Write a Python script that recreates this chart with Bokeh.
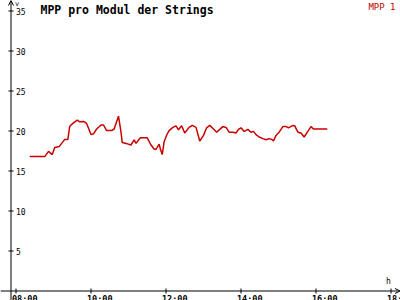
import math
from bokeh.plotting import figure
from bokeh.models import Range1d, Arrow, OpenHead, ColumnDataSource
from bokeh.core.properties import value
from bokeh.embed import file_html
from bokeh.resources import INLINE

# ---- data ----
times = ["08:22", "08:46", "08:52", "08:58", "09:02", "09:09", "09:14", "09:18", "09:23", "09:26",
         "09:31", "09:38", "09:42", "09:48", "09:53", "10:00", "10:04", "10:09", "10:16", "10:20",
         "10:25", "10:33", "10:37", "10:40", "10:44", "10:48", "10:50", "10:56", "11:04", "11:09",
         "11:12", "11:19", "11:30", "11:36", "11:41", "11:44", "11:49", "11:51", "11:54", "11:57",
         "12:02", "12:05", "12:11", "12:16", "12:20", "12:25", "12:30", "12:37", "12:42", "12:48",
         "12:54", "13:00", "13:05", "13:10", "13:16", "13:21", "13:26", "13:31", "13:36", "13:41",
         "13:47", "13:52", "13:56", "14:00", "14:05", "14:11", "14:16", "14:20", "14:24", "14:29",
         "14:35", "14:40", "14:45", "14:49", "14:52", "14:56", "15:01", "15:07", "15:12", "15:16",
         "15:23", "15:26", "15:31", "15:36", "15:41", "15:47", "15:52", "15:56", "16:18"]
mpp1 = [16.8, 16.8, 17.45, 17.05, 17.95, 18.05, 18.55, 18.95, 18.95, 20.6,
        20.95, 21.35, 21.15, 21.2, 20.95, 19.55, 19.65, 20.25, 20.75, 20.75,
        20.05, 20.05, 20.25, 20.95, 21.85, 19.85, 18.55, 18.45, 18.25, 18.9,
        18.45, 19.15, 19.15, 18.25, 17.75, 17.7, 18.35, 17.75, 17.05, 18.65,
        19.65, 20.05, 20.45, 20.65, 20.15, 20.65, 19.75, 20.45, 20.7, 20.45,
        18.75, 19.45, 20.4, 20.7, 20.25, 19.85, 20.2, 20.55, 20.45, 19.85,
        19.85, 19.75, 20.2, 20.4, 19.95, 20.2, 19.85, 19.95, 19.55, 19.25,
        19.05, 18.9, 19.05, 18.95, 18.75, 19.45, 19.85, 20.55, 20.55, 20.4,
        20.7, 20.65, 19.85, 19.75, 19.25, 19.95, 20.55, 20.25, 20.25]
series_name = "MPP 1"
title_text = "MPP pro Modul der Strings"
x_tick_labels = ["08:00", "10:00", "12:00", "14:00", "16:00", "18:00"]
y_ticks = [5, 10, 15, 20, 25, 30, 35]
x_unit = "h"
y_unit = "v"
axis_time = "07:52"


def hours(s):
    h, m = s.split(":")
    return int(h) + int(m) / 60.0


W, H = 400, 300
PX_H = 37.5   # pixels per hour
PX_V = 8.0    # pixels per unit
x0 = hours("08:00") - 15.5 / PX_H
x1 = x0 + W / PX_H
y0 = -9.5 / PX_V
y1 = y0 + H / PX_V
ax_x = hours(axis_time)

p = figure(width=W, height=H, output_backend="svg", toolbar_location=None,
           x_range=Range1d(x0, x1), y_range=Range1d(y0, y1),
           x_axis_location=None, y_axis_location=None, min_border=0,
           outline_line_color=None, background_fill_color="white",
           border_fill_color="white")
p.grid.visible = False

mono = value("DejaVu Sans Mono")

# axes with arrow heads
p.add_layout(Arrow(end=OpenHead(size=5, line_width=1, line_color="black"),
                   x_start=ax_x, y_start=y0, x_end=ax_x, y_end=y1,
                   line_width=1, line_color="black"))
p.add_layout(Arrow(end=OpenHead(size=5, line_width=1, line_color="black"),
                   x_start=x0, y_start=0, x_end=x1 - 0.5 / PX_H, y_end=0,
                   line_width=1, line_color="black"))

# ticks
xt = [hours(t) for t in x_tick_labels]
p.scatter(x=[ax_x] * len(y_ticks), y=y_ticks, marker="dash", size=5,
          line_color="black", line_width=1)
p.scatter(x=xt, y=[0] * len(xt), marker="dash", angle=math.pi / 2, size=5,
          line_color="black", line_width=1)

# tick labels
p.text(x=[ax_x] * len(y_ticks), y=y_ticks, text=[str(v) for v in y_ticks],
       x_offset=5, text_baseline="middle", text_align="left",
       text_font=mono, text_font_size="8px", text_color="black")
p.text(x=xt, y=[0] * len(xt), text=x_tick_labels, x_offset=-4, y_offset=3,
       text_baseline="top", text_align="left", text_font=mono,
       text_font_size="8.5px", text_font_style="bold", text_color="black")

# unit labels
p.text(x=[xt[-1]], y=[0], text=[x_unit], x_offset=-5, y_offset=-5,
       text_baseline="bottom", text_align="left", text_font=mono,
       text_font_size="8px", text_color="black")
p.text(x=[ax_x], y=[y1], text=[y_unit], x_offset=4, y_offset=-1,
       text_baseline="top", text_align="left", text_font=mono,
       text_font_size="7px", text_color="black")

# title and legend
p.text(x=[x0], y=[y1], text=[title_text], x_offset=40, y_offset=2,
       text_baseline="top", text_align="left", text_font=mono,
       text_font_size="11.5px", text_font_style="bold", text_color="black")
p.text(x=[x1], y=[y1], text=[series_name], x_offset=-5, y_offset=1,
       text_baseline="top", text_align="right", text_font=mono,
       text_font_size="9px", text_color="#c00000")

# data line
src = ColumnDataSource(dict(t=[hours(t) for t in times], v=mpp1))
p.line(x="t", y="v", source=src, line_color="#c80000", line_width=1.5)

open("out.html", "w").write(file_html(p, INLINE))
